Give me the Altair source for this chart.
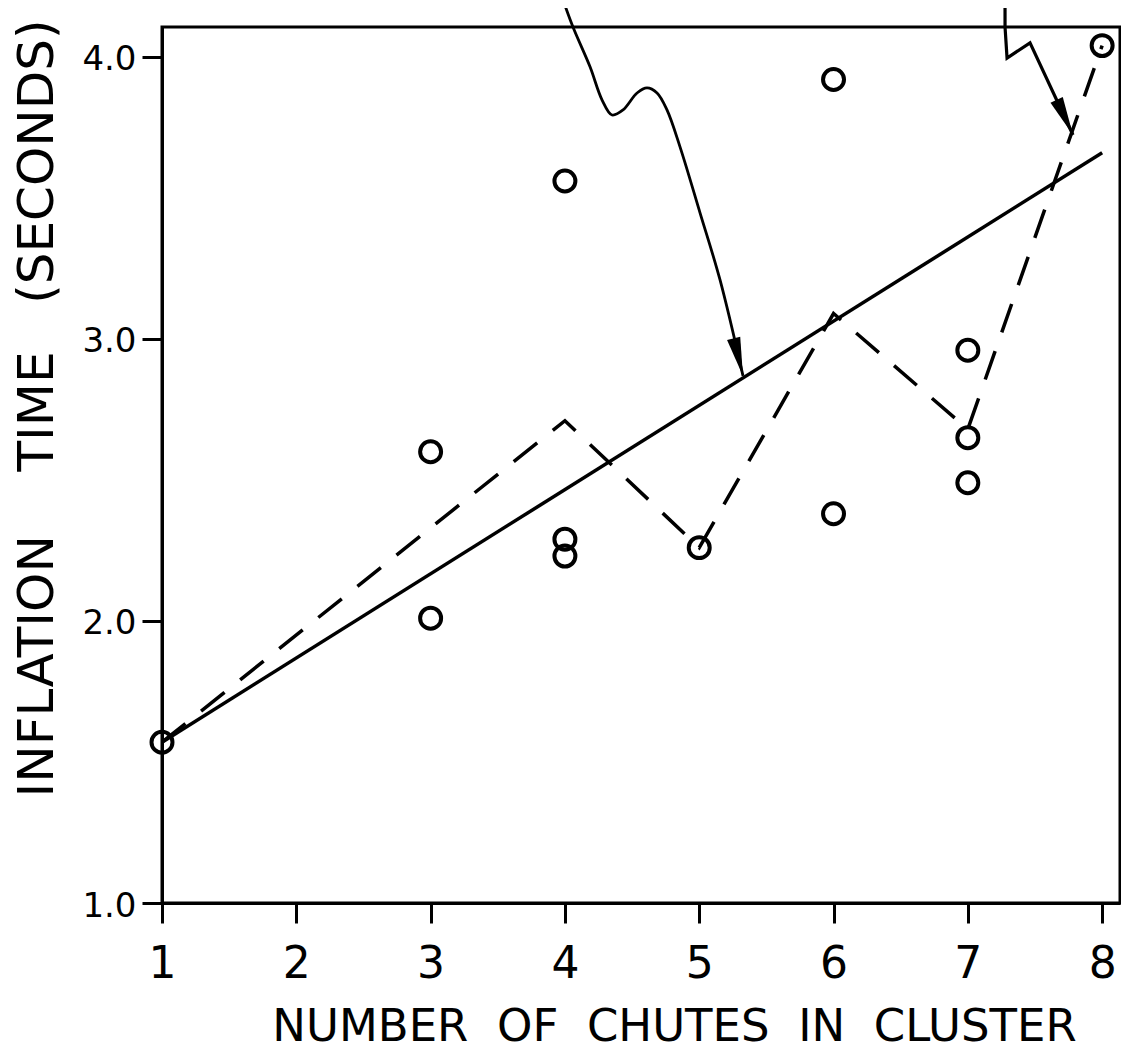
import altair as alt
import pandas as pd

# individual observations (number of chutes, inflation time in seconds)
obs_x = [1, 3, 3, 4, 4, 4, 5, 6, 6, 7, 7, 7, 8]
obs_y = [1.57, 2.60, 2.01, 3.56, 2.29, 2.23, 2.26, 3.92, 2.38, 2.96, 2.65, 2.49, 4.04]

# dashed line joining group averages
mean_x = [1, 3, 4, 5, 6, 7, 8]
mean_y = [1.57, 2.33, 2.71, 2.26, 3.09, 2.68, 4.04]

# fitted straight line
fit_x = [1, 8]
fit_y = [1.57, 3.66]

# annotation arrows (their labels lie above the cropped picture)
arrow1_x = [3.986, 4.060, 4.187, 4.276, 4.351, 4.433, 4.537, 4.611, 4.686, 4.760, 4.857, 5.006, 5.155, 5.326]
arrow1_y = [4.202, 4.106, 3.965, 3.848, 3.794, 3.812, 3.872, 3.890, 3.872, 3.812, 3.681, 3.447, 3.209, 2.869]
arrow2_x = [7.277, 7.277, 7.292, 7.463, 7.783]
arrow2_y = [4.202, 4.106, 3.996, 4.050, 3.723]

# arrow heads: tip and rotation (degrees)
head_x = [5.326, 7.783]
head_y = [2.869, 3.723]
head_angle = [346, 335]

x_ticks = [1, 2, 3, 4, 5, 6, 7, 8]
y_ticks = [1.0, 2.0, 3.0, 4.0]

rows = []
def add(series, xs, ys):
    for i, (a, b) in enumerate(zip(xs, ys)):
        rows.append({"series": series, "x": a, "y": b, "idx": i})

add("obs", obs_x, obs_y)
add("mean", mean_x, mean_y)
add("fit", fit_x, fit_y)
add("arrow1", arrow1_x, arrow1_y)
add("arrow2", arrow2_x, arrow2_y)
df = pd.DataFrame(rows)
heads = pd.DataFrame({"series": "head", "x": head_x, "y": head_y, "angle": head_angle, "idx": 0})
df = pd.concat([df, heads], ignore_index=True)

FONT = "DejaVu Sans"

xenc = alt.X(
    "x:Q",
    scale=alt.Scale(domain=[1, 8.133], nice=False, zero=False),
    axis=alt.Axis(
        values=x_ticks, format="d", grid=False, labelFlush=False,
        tickSize=20, tickWidth=3, tickColor="black",
        domainWidth=3, domainColor="black",
        labelFont=FONT, labelFontSize=44, labelColor="black", labelPadding=19,
        title="NUMBER\u00a0\u00a0OF\u00a0\u00a0CHUTES\u00a0\u00a0IN\u00a0\u00a0CLUSTER",
        titleFont=FONT, titleFontSize=45, titleFontWeight="normal", titleColor="black",
        titleX=512, titleY=123, titleAlign="center", titleBaseline="middle",
    ),
)
yenc = alt.Y(
    "y:Q",
    scale=alt.Scale(domain=[1, 4.106], nice=False, zero=False),
    axis=alt.Axis(
        values=y_ticks, format=".1f", grid=False, labelFlush=False,
        tickSize=20, tickWidth=3, tickColor="black",
        domainWidth=3, domainColor="black",
        labelFont=FONT, labelFontSize=34, labelColor="black", labelPadding=6,
        labelOffset=3,
        title="INFLATION\u00a0\u00a0\u00a0\u00a0TIME\u00a0\u00a0\u00a0(SECONDS)",
        titleFont=FONT, titleFontSize=50, titleFontWeight="normal", titleColor="black",
        titleX=-125, titleY=381, titleAngle=270, titleAlign="center", titleBaseline="middle",
    ),
)

base = alt.Chart(df).encode(x=xenc, y=yenc, order="idx:Q")

fit = base.transform_filter(alt.datum.series == "fit").mark_line(
    color="black", strokeWidth=3.5)
mean = base.transform_filter(alt.datum.series == "mean").mark_line(
    color="black", strokeWidth=3.5, strokeDash=[30, 20])
arrow1 = base.transform_filter(alt.datum.series == "arrow1").mark_line(
    color="black", strokeWidth=2.8, interpolate="catmull-rom")
arrow2 = base.transform_filter(alt.datum.series == "arrow2").mark_line(
    color="black", strokeWidth=3.2)
pts = base.transform_filter(alt.datum.series == "obs").mark_point(
    shape="circle", filled=False, color="black", size=440, strokeWidth=4, opacity=1)
hd = base.transform_filter(alt.datum.series == "head").mark_point(
    shape="M0,0 L-0.35,-2 L0.35,-2 Z", filled=True, color="black", size=1500, opacity=1
).encode(angle=alt.Angle("angle:Q", scale=None))

chart = alt.layer(fit, mean, arrow1, arrow2, pts, hd).properties(
    width=958, height=876,
    autosize=alt.AutoSizeParams(type="none"),
    padding={"left": 154, "top": 19, "right": 1, "bottom": 149},
    background="white",
).configure_view(stroke="black", strokeWidth=3)

chart.save("out.html", embed_options={"renderer": "svg", "actions": False})
